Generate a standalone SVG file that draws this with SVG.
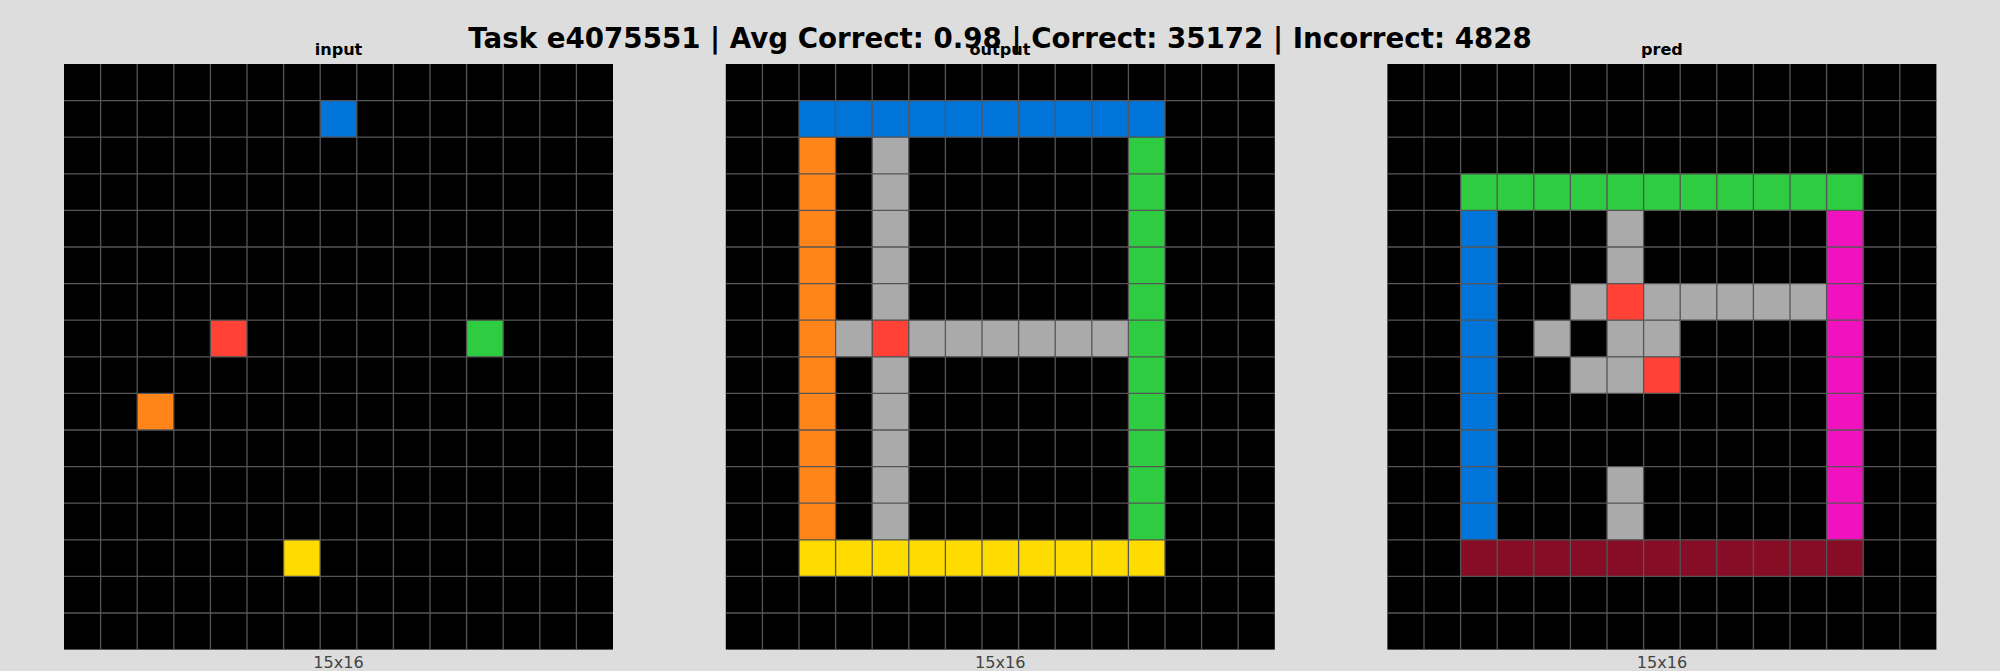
<svg xmlns="http://www.w3.org/2000/svg" width="2000" height="671" viewBox="0 0 2000 671">
<style>
.bg{fill:#000}
.gl{fill:none;stroke:#555555;stroke-width:1.3;vector-effect:non-scaling-stroke}
.b{fill:#0074D9}.r{fill:#FF4136}.g{fill:#2ECC40}.y{fill:#FFDC00}.s{fill:#AAAAAA}.o{fill:#FF851B}.m{fill:#F012BE}.w{fill:#870C25}
.title{font-family:"DejaVu Sans",sans-serif;font-weight:bold;font-size:27.7px;fill:#000;text-anchor:middle}
.sub{font-family:"DejaVu Sans",sans-serif;font-weight:bold;font-size:16.1px;fill:#000;text-anchor:middle}
.dim{font-family:"DejaVu Sans",sans-serif;font-size:16.1px;fill:#444;text-anchor:middle}
</style>
<defs>
<path id="lines" class="gl" d="M1 0V16M2 0V16M3 0V16M4 0V16M5 0V16M6 0V16M7 0V16M8 0V16M9 0V16M10 0V16M11 0V16M12 0V16M13 0V16M14 0V16M0 1H15M0 2H15M0 3H15M0 4H15M0 5H15M0 6H15M0 7H15M0 8H15M0 9H15M0 10H15M0 11H15M0 12H15M0 13H15M0 14H15M0 15H15"/>
</defs>
<rect width="2000" height="671" fill="#DDDDDD"/>
<text class="title" x="1000" y="48.3">Task e4075551 | Avg Correct: 0.98 | Correct: 35172 | Incorrect: 4828</text>
<g id="input">
<text class="sub" x="338.5" y="54.5">input</text>
<g transform="translate(64,64) scale(36.6)">
<rect class="bg" width="15" height="16"/>
<rect class="b" x="7" y="1" width="1" height="1"/>
<rect class="r" x="4" y="7" width="1" height="1"/>
<rect class="g" x="11" y="7" width="1" height="1"/>
<rect class="o" x="2" y="9" width="1" height="1"/>
<rect class="y" x="6" y="13" width="1" height="1"/>
<use href="#lines"/>
</g>
<text class="dim" x="338.5" y="668">15x16</text>
</g>
<g id="output">
<text class="sub" x="1000" y="54.5">output</text>
<g transform="translate(725.8,64) scale(36.6)">
<rect class="bg" width="15" height="16"/>
<rect class="b" x="2" y="1" width="10" height="1"/>
<rect class="o" x="2" y="2" width="1" height="11"/>
<rect class="s" x="4" y="2" width="1" height="5"/>
<rect class="s" x="4" y="8" width="1" height="5"/>
<rect class="s" x="3" y="7" width="1" height="1"/>
<rect class="r" x="4" y="7" width="1" height="1"/>
<rect class="s" x="5" y="7" width="6" height="1"/>
<rect class="g" x="11" y="2" width="1" height="11"/>
<rect class="y" x="2" y="13" width="10" height="1"/>
<use href="#lines"/>
</g>
<text class="dim" x="1000.3" y="668">15x16</text>
</g>
<g id="pred">
<text class="sub" x="1661.9" y="54.5">pred</text>
<g transform="translate(1387.4,64) scale(36.6)">
<rect class="bg" width="15" height="16"/>
<rect class="g" x="2" y="3" width="11" height="1"/>
<rect class="b" x="2" y="4" width="1" height="9"/>
<rect class="m" x="12" y="4" width="1" height="9"/>
<rect class="w" x="2" y="13" width="11" height="1"/>
<rect class="s" x="6" y="4" width="1" height="2"/>
<rect class="s" x="5" y="6" width="1" height="1"/>
<rect class="r" x="6" y="6" width="1" height="1"/>
<rect class="s" x="7" y="6" width="5" height="1"/>
<rect class="s" x="4" y="7" width="1" height="1"/>
<rect class="s" x="6" y="7" width="2" height="1"/>
<rect class="s" x="5" y="8" width="2" height="1"/>
<rect class="r" x="7" y="8" width="1" height="1"/>
<rect class="s" x="6" y="11" width="1" height="2"/>
<use href="#lines"/>
</g>
<text class="dim" x="1661.9" y="668">15x16</text>
</g>
</svg>
